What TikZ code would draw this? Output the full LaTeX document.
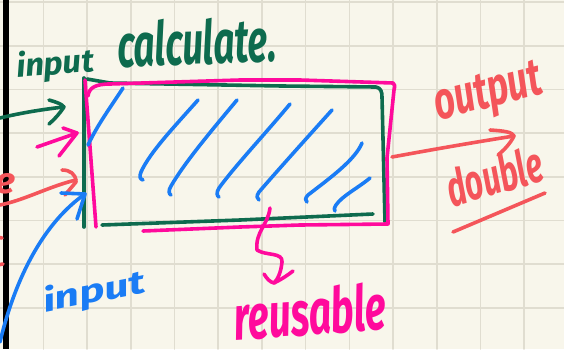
\documentclass[tikz,border=0pt]{standalone}
\usepackage{fontspec}
\usepackage{graphicx}
\newfontfamily\hand{Fira Sans}
\definecolor{paper}{HTML}{F8F6EB}
\definecolor{gridc}{HTML}{E0DDD0}
\definecolor{pgreen}{HTML}{0E6B4E}
\definecolor{ppink}{HTML}{FF0A9C}
\definecolor{pblue}{HTML}{1A7CF5}
\definecolor{pred}{HTML}{F4555A}
\begin{document}
\begin{tikzpicture}[x=1pt,y=-1pt,line cap=round,line join=round,
  pen/.style={line width=3.6pt},
  gridline/.style={draw=gridc,line width=1.6pt},
  txt/.style={inner sep=0pt,outer sep=0pt,anchor=base west},
  handtext/.style={font=\hand\itshape\bfseries}]
\useasboundingbox (0,0) rectangle (564,349);
\clip (0,0) rectangle (564,349);
\fill[paper] (0,0) rectangle (564,349);
% grid
\foreach \k in {1,...,12} \draw[gridline] ({43.7*\k-0.3},0) -- ({43.7*\k-0.3},349);
\foreach \k in {0,...,7} \draw[gridline] (0,{2+43.7*\k}) -- (564,{2+43.7*\k});
% black margin bar
\fill[black] (2.7,0) rectangle (9,349);

% green box
\draw[pen,pgreen] (84,78) -- (84,227);
\draw[pen,pgreen] (87,79) -- (110,83) -- (282,86) -- (376,87) .. controls (381,88) and (382,92) .. (382,97) -- (385,222);
\draw[pen,pgreen] (102,225) -- (240,220) -- (373,214);

% pink box
\draw[pen,ppink] (85,80) -- (96,227);
\draw[pen,ppink] (88,96) .. controls (89,88) and (95,84) .. (110,84) -- (240,80) -- (300,80) -- (393,83) .. controls (395,84) and (395,86) .. (394,90) -- (387,158) -- (388,224) -- (300,225) -- (240,227) -- (143,231);

% blue hatching
\draw[pen,pblue] (123,88) .. controls (110,108) and (98,124) .. (88,145);
\draw[pen,pblue] (198,100) .. controls (175,126) and (150,152) .. (141,172) .. controls (139,177) and (140,179) .. (143,180);
\draw[pen,pblue] (237,100) .. controls (212,130) and (185,162) .. (171,186) .. controls (168,191) and (169,194) .. (171,195);
\draw[pen,pblue] (290,104) .. controls (265,134) and (235,166) .. (219,188) .. controls (216,193) and (217,196) .. (219,197);
\draw[pen,pblue] (332,110) .. controls (305,140) and (278,170) .. (259,192) .. controls (256,196) and (257,199) .. (259,200);
\draw[pen,pblue] (362,143) .. controls (355,160) and (330,178) .. (308,195) .. controls (305,198) and (305,201) .. (307,202);
\draw[pen,pblue] (370,178) .. controls (358,188) and (342,196) .. (336,205) .. controls (334,208) and (334,210) .. (335,211);

% coordinates for connectors
\coordinate (gS) at (0,118);
\coordinate (gT) at (64,107);
\coordinate (pS) at (37,147);
\coordinate (pT) at (77,133);
\coordinate (rS) at (0,205);
\coordinate (rT) at (76,180);
\coordinate (bS) at (0,342);
\coordinate (bT) at (85,194);
\coordinate (oS) at (392,157);
\coordinate (oT) at (514,136);
\coordinate (sS) at (270,208);
\coordinate (sT) at (274,283);

% green arrow
\draw[pen,pgreen] (gS) .. controls (20,113) and (45,109) .. (gT);
\draw[pen,pgreen] (49,100) .. controls (56,102) and (62,104) .. (gT) .. controls (60,113) and (55,119) .. (49,124);
% pink arrow
\draw[pen,ppink] (pS) -- (pT);
\draw[pen,ppink] (63,128) -- (pT) -- (59,156);
% red arrow (left)
\draw[pen,pred] (rS) .. controls (25,200) and (50,186) .. (rT);
\draw[pen,pred] (62,170) .. controls (70,170) and (76,174) .. (76,182) -- (65,195);
% blue curved arrow
\draw[pen,pblue] (bS) .. controls (16,275) and (45,222) .. (bT);
\draw[pen,pblue] (61,193) -- (bT) -- (77,219);
% red arrow (right)
\draw[pen,pred] (oS) .. controls (430,150) and (470,143) .. (oT);
\draw[pen,pred] (490,130) .. controls (505,131) and (512,132) .. (oT) .. controls (510,144) and (504,150) .. (498,155);
% pink squiggle
\draw[pen,ppink] (sS) .. controls (268,225) and (255,232) .. (257,250) .. controls (266,256) and (283,252) .. (282,262) .. controls (281,272) and (278,279) .. (sT);
\draw[pen,ppink] (264,274) .. controls (267,279) and (270,282) .. (sT) .. controls (282,279) and (288,275) .. (293,271);
% red underline
\draw[pen,pred] (453,232) -- (545,193);
% red fragments at left edge
\draw[pen,pred] (-3,237) -- (2,238);
\draw[pen,pred] (-3,265) -- (3,264);

% texts
\node[txt,handtext,text=pgreen,rotate=4] (inG) at (17,77) {\resizebox{78pt}{26pt}{input}};
\node[txt,handtext,text=pgreen,rotate=2] (calc) at (118,67) {\resizebox{159pt}{46pt}{calculate.}};
\node[txt,handtext,text=pblue,rotate=11] (inB) at (45,312) {\resizebox{104pt}{26pt}{input}};
\node[txt,handtext,text=pred,rotate=14] (out) at (438,120) {\resizebox{110pt}{35pt}{output}};
\node[txt,handtext,text=pred,rotate=16] (dbl) at (452,207) {\resizebox{98pt}{38pt}{double}};
\node[txt,handtext,text=ppink,rotate=4] (reu) at (235,340) {\resizebox{153pt}{48pt}{reusable}};
\node[txt,handtext,text=pred,anchor=base east] (efrag) at (16,193) {\resizebox{20pt}{20pt}{e}};
\end{tikzpicture}
\end{document}
